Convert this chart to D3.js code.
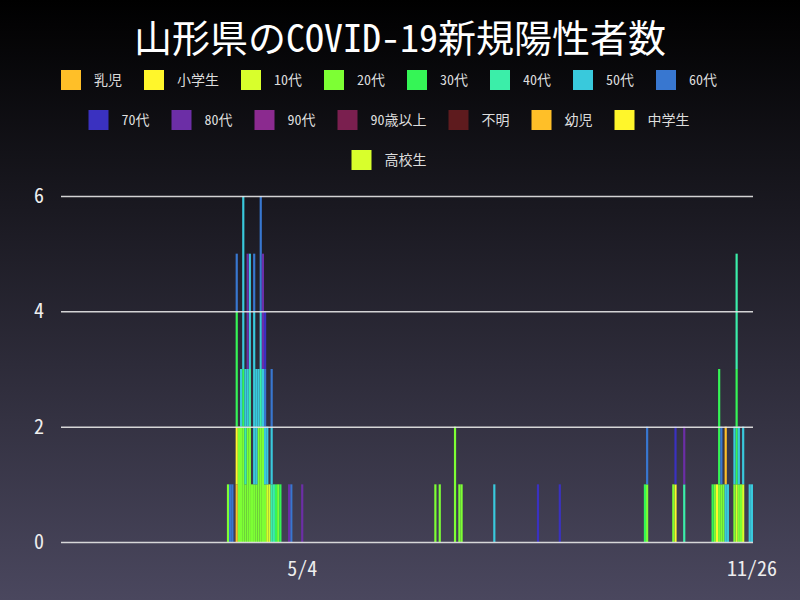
<!DOCTYPE html>
<html>
<head>
<meta charset="utf-8">
<script src="https://cdn.jsdelivr.net/npm/d3@7"></script>
<style>
  html, body { margin: 0; padding: 0; background: #000; }
  svg text { font-family: "Noto Sans Mono CJK JP", "DejaVu Sans Mono", "Noto Sans CJK JP", monospace; }
</style>
</head>
<body>
<div id="chart"></div>
<script>
// categories: one bar per day, 2020-01-15 .. 2020-11-26
const firstDay = new Date(2020, 0, 15)
const lastDay = new Date(2020, 10, 26)
const xTickLabels = ["5/4", "11/26"]
const yTicks = [0, 2, 4, 6]

const seriesNames = ["乳児", "小学生", "10代", "20代", "30代", "40代", "50代", "60代",
  "70代", "80代", "90代", "90歳以上", "不明", "幼児", "中学生", "高校生"]
const seriesColors = ["#ffbf28", "#fff62b", "#d8ff2c", "#7dff34", "#35f556", "#3beea9", "#39c9dc", "#3877d0",
  "#3a31c0", "#6c2ea6", "#8b2a8f", "#7a1f4f", "#5e1b1e", "#ffbf28", "#fff62b", "#d8ff2c"]

// daily counts per age group [date, cases]
const infant = [["4/4", 1]]
const elementary = [["4/4", 1], ["10/22", 1], ["11/10", 1]]
const age10 = [["4/18", 1], ["4/19", 1], ["11/19", 1], ["11/22", 1]]
const age20 = [["3/31", 1], ["4/5", 2], ["4/6", 2], ["4/7", 2], ["4/8", 1], ["4/9", 2], ["4/10", 2], ["4/11", 1],
  ["4/12", 1], ["4/13", 1], ["4/14", 2], ["4/15", 2], ["4/16", 2], ["4/17", 1], ["4/23", 1], ["7/4", 1],
  ["7/6", 1], ["7/13", 2], ["7/15", 1], ["7/16", 1], ["10/9", 1], ["10/21", 1], ["11/9", 1], ["11/11", 1],
  ["11/12", 1], ["11/13", 1], ["11/18", 1], ["11/20", 1], ["11/21", 1]]
const age30 = [["4/4", 2], ["4/7", 1], ["4/22", 1], ["4/24", 1], ["10/8", 1], ["11/8", 1], ["11/11", 2], ["11/19", 2]]
const age40 = [["4/8", 1], ["4/10", 1], ["4/15", 1], ["4/20", 1], ["4/21", 1], ["10/26", 1], ["11/19", 2]]
const age50 = [["4/6", 1], ["4/7", 3], ["4/8", 1], ["4/9", 1], ["4/10", 2], ["4/12", 3], ["4/13", 2], ["4/14", 1],
  ["4/15", 1], ["4/16", 1], ["4/17", 1], ["4/18", 1], ["4/20", 1], ["7/31", 1], ["11/14", 1], ["11/15", 1],
  ["11/18", 1], ["11/20", 1], ["11/22", 1], ["11/25", 1], ["11/26", 1]]
const age60 = [["4/1", 1], ["4/2", 1], ["4/4", 1], ["4/12", 1], ["4/15", 2], ["4/17", 1], ["4/20", 1], ["4/29", 1],
  ["10/9", 1], ["11/12", 1]]
const age70 = [["4/17", 1], ["8/20", 1], ["8/30", 1], ["10/22", 1]]
const age80 = [["4/9", 2], ["4/16", 2], ["4/28", 1], ["5/4", 1], ["10/26", 1]]
const age90 = []
const age90plus = []
const unknown = []
const toddler = [["11/14", 1]]
const juniorHigh = []
const highSchool = []

const seriesValues = [infant, elementary, age10, age20, age30, age40, age50, age60,
  age70, age80, age90, age90plus, unknown, toddler, juniorHigh, highSchool]

const W = 800, H = 600
const margin = { top: 196, right: 47, bottom: 58, left: 61 }
const fmt = d3.timeFormat("%-m/%-d")

let days = d3.timeDay.range(firstDay, d3.timeDay.offset(lastDay, 1)).map(fmt)
let table = days.map(day => {
  let row = { day: day }
  seriesNames.forEach((name, i) => {
    let hit = seriesValues[i].find(v => v[0] === day)
    row[name] = hit ? hit[1] : 0
  })
  return row
})

let svg = d3.select("#chart").append("svg")
  .attr("width", W)
  .attr("height", H)

// background
let grad = svg.append("defs").append("linearGradient")
  .attr("id", "bg")
  .attr("x1", 0).attr("y1", 0).attr("x2", 0).attr("y2", 1)
grad.append("stop").attr("offset", "0%").attr("stop-color", "#000000")
grad.append("stop").attr("offset", "100%").attr("stop-color", "#4a475e")
svg.append("rect").attr("width", W).attr("height", H).attr("fill", "url(#bg)")

// title
svg.append("text")
  .attr("x", W / 2)
  .attr("y", 52)
  .attr("text-anchor", "middle")
  .attr("fill", "#ffffff")
  .style("font-size", "38px")
  .text("山形県のCOVID-19新規陽性者数")

// legend, wrapped and centred like the original
let legend = svg.append("g").attr("class", "legend")
let items = seriesNames.map((name, i) => {
  let g = legend.append("g")
  g.append("rect")
    .attr("width", 20)
    .attr("height", 20)
    .attr("y", -10)
    .attr("fill", seriesColors[i])
  let t = g.append("text")
    .attr("x", 33)
    .attr("dy", "0.35em")
    .attr("fill", "#dddddd")
    .style("font-size", "14px")
    .text(name)
  return { g: g, w: 55 + t.node().getComputedTextLength() }
})
let rows = [[]], rowW = [0]
items.forEach(it => {
  let r = rows.length - 1
  if (rowW[r] + it.w > 700) { rows.push([]); rowW.push(0); r++ }
  rows[r].push(it)
  rowW[r] += it.w
})
rows.forEach((row, r) => {
  let cx = (W - rowW[r]) / 2
  row.forEach(it => {
    it.g.attr("transform", `translate(${cx},${80 + r * 40})`)
    cx += it.w
  })
})

// scales
let x = d3.scaleBand().domain(days).range([margin.left, W - margin.right]).padding(0)
let y = d3.scaleLinear().domain([0, 6]).range([H - margin.bottom, margin.top])

let stacked = d3.stack().keys(seriesNames)(table)

svg.append("g")
  .selectAll("g")
  .data(stacked)
  .enter()
  .append("g")
  .attr("fill", (d, i) => seriesColors[i])
  .selectAll("rect")
  .data(d => d.filter(s => s[1] > s[0]))
  .enter()
  .append("rect")
  .attr("x", d => x(d.data.day))
  .attr("y", d => y(d[1]))
  .attr("width", x.bandwidth())
  .attr("height", d => y(d[0]) - y(d[1]))

// grid
svg.append("g")
  .attr("class", "grid")
  .attr("transform", `translate(${margin.left},0)`)
  .call(d3.axisLeft(y).tickValues(yTicks).tickSize(-(W - margin.left - margin.right)).tickFormat(""))
  .call(g => g.select(".domain").remove())
  .call(g => g.selectAll("line").attr("stroke", "#e8e8e8").attr("stroke-width", 1.5).attr("opacity", 0.9))

// y axis
svg.append("g")
  .attr("class", "y axis")
  .attr("transform", `translate(${margin.left},0)`)
  .call(d3.axisLeft(y).tickValues(yTicks).tickFormat(d3.format("d")).tickSize(0).tickPadding(17))
  .call(g => g.select(".domain").remove())
  .call(g => g.selectAll("text").attr("fill", "#eeeeee").style("font-size", "20px"))

// x axis
svg.append("g")
  .attr("class", "x axis")
  .attr("transform", `translate(0,${H - margin.bottom})`)
  .call(d3.axisBottom(x).tickValues(xTickLabels).tickSize(0).tickPadding(20))
  .call(g => g.select(".domain").remove())
  .call(g => g.selectAll("text").attr("fill", "#eeeeee").style("font-size", "20px"))
</script>
</body>
</html>
